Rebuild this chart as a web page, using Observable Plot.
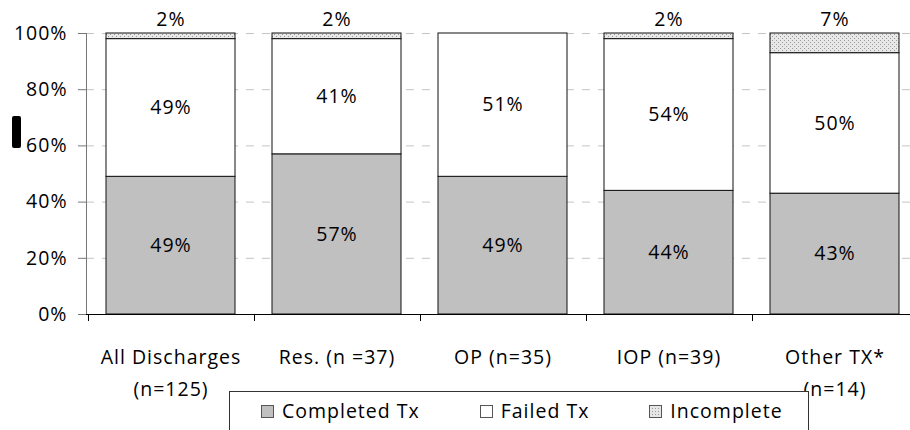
<!DOCTYPE html>
<html>
<head>
<meta charset="utf-8">
<script src="https://cdn.jsdelivr.net/npm/d3@7"></script>
<script src="https://cdn.jsdelivr.net/npm/@observablehq/plot@0.6"></script>
<style>
  html, body { margin: 0; padding: 0; background: #fff; }
  #wrap { position: relative; width: 910px; height: 430px; overflow: hidden; font-family: "Open Sans", sans-serif; }
  #marker { position: absolute; left: 12px; top: 116px; width: 9px; height: 32px; background: #000; border-radius: 2px; }
  #legend { position: absolute; left: 229px; top: 391px; width: 580px; height: 60px; border: 1px solid #333; background: #fff;
            box-sizing: border-box; display: flex; align-items: flex-start; padding: 6px 0 0 31px; white-space: nowrap;
            font-size: 19.5px; letter-spacing: 1px; color: #000; }
  .item { display: flex; align-items: center; margin-right: 60px; line-height: 26px; flex-shrink: 0; white-space: nowrap; }
  .item svg { margin-right: 8px; flex-shrink: 0; }
</style>
</head>
<body>
<div id="wrap">
  <div id="chart"></div>
  <div id="marker"></div>
  <div id="legend"></div>
</div>
<script>
// ---- data ----
const categories = ["All Discharges\n(n=125)", "Res. (n =37)", "OP (n=35)", "IOP (n=39)", "Other TX*\n(n=14)"];
const seriesNames = ["Completed Tx", "Failed Tx", "Incomplete"];
const completed = [49, 57, 49, 44, 43];
const failed = [49, 41, 51, 54, 50];
const incomplete = [2, 2, 0, 2, 7];
const yTicks = [0, 20, 40, 60, 80, 100];
const seriesColors = ["#c0c0c0", "#ffffff", "url(#incPat)"];

const rows = categories.flatMap((c, i) => [
  {cat: c, series: seriesNames[0], value: completed[i]},
  {cat: c, series: seriesNames[1], value: failed[i]},
  {cat: c, series: seriesNames[2], value: incomplete[i]}
]);
const innerRows = rows.filter(d => d.series !== "Incomplete");
const topRows = rows.filter(d => d.series === "Incomplete" && d.value > 0);

const defsMark = () => {
  const defs = d3.create("svg:defs");
  const p = defs.append("pattern").attr("id", "incPat").attr("width", 4).attr("height", 4)
    .attr("patternUnits", "userSpaceOnUse");
  p.append("rect").attr("width", 4).attr("height", 4).attr("fill", "#e8e8e8");
  p.append("rect").attr("x", 0).attr("y", 0).attr("width", 1).attr("height", 1).attr("fill", "#999");
  p.append("rect").attr("x", 2).attr("y", 2).attr("width", 1).attr("height", 1).attr("fill", "#999");
  return defs.node();
};

// tick marks between categories (Excel style)
const boundaryTicks = (index, scales, values, dimensions) => {
  const x = scales.x, y = scales.y;
  const bw = x.bandwidth ? x.bandwidth() : 0;
  const step = x.step ? x.step() : (x(categories[1]) - x(categories[0]));
  const g = d3.create("svg:g").attr("stroke", "#000");
  const y0 = y(0);
  categories.forEach(c => {
    const bx = Math.round(x(c) + bw / 2 - step / 2) + 0.5;
    g.append("line").attr("x1", bx).attr("x2", bx).attr("y1", y0).attr("y2", y0 + 7);
  });
  return g.node();
};

const chart = Plot.plot({
  width: 910,
  height: 430,
  marginLeft: 86,
  marginRight: 0,
  marginTop: 33,
  marginBottom: 116,
  style: {fontFamily: "Open Sans, sans-serif", fontSize: "19.5px", letterSpacing: "1px", color: "#000", background: "#fff"},
  x: {domain: categories, range: [86, 918], paddingInner: 0.223, paddingOuter: 0.1115, label: null},
  y: {domain: [0, 100], label: null},
  color: {domain: seriesNames, range: seriesColors},
  marks: [
    defsMark,
    Plot.gridY({ticks: yTicks.filter(t => t > 0), stroke: "#c4c4c4", strokeOpacity: 1, strokeDasharray: "8,8"}),
    Plot.barY(rows, {x: "cat", y: "value", z: "series", fill: "series", stroke: "#111", strokeWidth: 1}),
    Plot.text(innerRows, Plot.stackY({x: "cat", y: "value", z: "series", text: d => d.value + "%", fill: "#000"})),
    Plot.text(topRows, {x: "cat", y: 100, dy: -14, text: d => d.value + "%", fill: "#000"}),
    Plot.frame({anchor: "left", stroke: "#777"}),
    Plot.ruleY([0], {stroke: "#000"}),
    boundaryTicks,
    Plot.axisY({ticks: yTicks, tickFormat: d => d + "%", tickSize: 8, tickPadding: 11, stroke: "#777", fill: "#000", label: null}),
    Plot.axisX({tickSize: 0, tickPadding: 27, lineHeight: 1.62, fill: "#000", label: null})
  ]
});
document.getElementById("chart").appendChild(chart);

// legend
const legend = document.getElementById("legend");
seriesNames.forEach((name, i) => {
  const item = document.createElement("div");
  item.className = "item";
  const sw = d3.create("svg").attr("width", 13).attr("height", 13);
  if (i === 2) {
    const p = sw.append("defs").append("pattern").attr("id", "legPat").attr("width", 3).attr("height", 3)
      .attr("patternUnits", "userSpaceOnUse");
    p.append("rect").attr("width", 3).attr("height", 3).attr("fill", "#e6e6e6");
    p.append("rect").attr("width", 1).attr("height", 1).attr("fill", "#999");
  }
  sw.append("rect").attr("x", 0.5).attr("y", 0.5).attr("width", 12).attr("height", 12)
    .attr("fill", i === 2 ? "url(#legPat)" : seriesColors[i]).attr("stroke", "#555");
  item.appendChild(sw.node());
  const t = document.createElement("span");
  t.textContent = name;
  item.appendChild(t);
  legend.appendChild(item);
});
</script>
</body>
</html>
